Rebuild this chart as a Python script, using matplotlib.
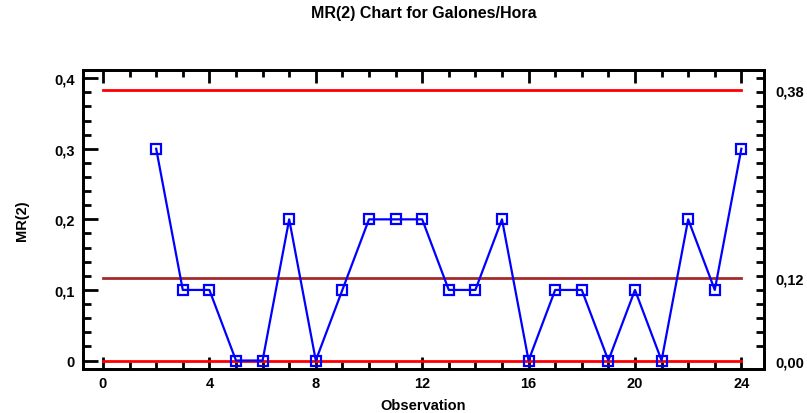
import matplotlib.pyplot as plt
from matplotlib.ticker import MultipleLocator, FuncFormatter, FixedLocator

plt.rcParams['font.family'] = ['Liberation Sans', 'DejaVu Sans']
plt.rcParams['font.weight'] = 'bold'

# moving ranges, observations 2..24
obs = list(range(2, 25))
mr = [0.3, 0.1, 0.1, 0.0, 0.0, 0.2, 0.0, 0.1, 0.2, 0.2, 0.2, 0.1,
      0.1, 0.2, 0.0, 0.1, 0.1, 0.0, 0.1, 0.0, 0.2, 0.1, 0.3]

# control limits
ucl = 0.3835
cl = 0.1174
lcl = 0.0
limit_labels = ['0,38', '0,12', '0,00']


def comma(v, pos):
    return ('%g' % round(v, 3)).replace('.', ',')


fig = plt.figure(figsize=(8.07, 4.14), dpi=100)
ax = fig.add_axes([0.1029, 0.1063, 0.8438, 0.7229])

ax.plot([0, 24], [ucl, ucl], color='#ff0000', lw=2)
ax.plot([0, 24], [cl, cl], color='#a52a2a', lw=2)
ax.plot([0, 24], [lcl, lcl], color='#ff0000', lw=2)
ax.plot(obs, mr, color='#0000ff', lw=1.6, marker='s', ms=7,
        mfc='none', mec='#0000ff', mew=1.6, zorder=3)

ax.set_xlim(-0.75, 24.85)
ax.set_ylim(-0.012, 0.412)
ax.xaxis.set_major_locator(MultipleLocator(4))
ax.xaxis.set_minor_locator(MultipleLocator(1))
ax.yaxis.set_major_locator(MultipleLocator(0.1))
ax.yaxis.set_minor_locator(MultipleLocator(0.02))
ax.yaxis.set_major_formatter(FuncFormatter(comma))

ax.tick_params(axis='both', which='both', direction='in', width=2,
               labelsize=10.5, top=True, right=False)
ax.tick_params(axis='y', which='major', length=11, pad=6)
ax.tick_params(axis='y', which='minor', length=6)
ax.tick_params(axis='x', which='major', length=9, pad=5)
ax.tick_params(axis='x', which='minor', length=5)
for lab in ax.get_xticklabels() + ax.get_yticklabels():
    lab.set_fontweight('bold')

for s in ax.spines.values():
    s.set_linewidth(2)

# right-hand axis carrying the limit values
ax2 = ax.twinx()
ax2.set_ylim(ax.get_ylim())
ax2.set_yticks([ucl, cl, lcl], limit_labels)
ax2.yaxis.set_minor_locator(FixedLocator([i * 0.02 for i in range(21)]))
ax2.tick_params(axis='y', which='major', length=0, labelsize=10.5, pad=8)
ax2.tick_params(axis='y', which='minor', direction='in', length=6, width=2)
for lab in ax2.get_yticklabels():
    lab.set_fontweight('bold')
for s in ax2.spines.values():
    s.set_linewidth(2)

ax.set_xlabel('Observation', fontsize=10.5, fontweight='bold', labelpad=6)
ax.set_ylabel('MR(2)', fontsize=10.5, fontweight='bold', labelpad=18)
fig.suptitle('MR(2) Chart for Galones/Hora', fontsize=11.5, fontweight='bold',
             x=0.525, y=0.985)

fig.savefig('out.png', dpi=100)
